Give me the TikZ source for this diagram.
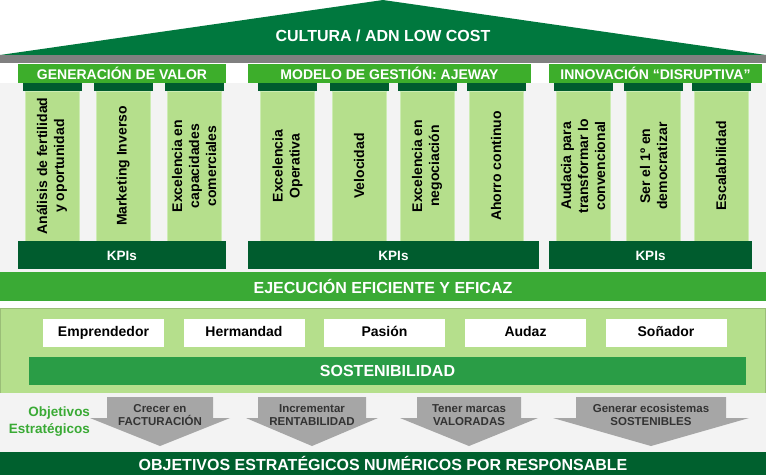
\documentclass[tikz,border=0pt]{standalone}
\usepackage{fontspec}
\setmainfont{Liberation Sans}
\definecolor{roofgreen}{RGB}{0,120,62}
\definecolor{grnbright}{RGB}{61,174,43}
\definecolor{grndark}{RGB}{0,92,46}
\definecolor{grnlight}{RGB}{181,223,140}
\definecolor{grnedge}{RGB}{205,236,180}
\definecolor{grnmid}{RGB}{58,170,53}
\definecolor{grnsost}{RGB}{42,157,70}
\definecolor{grnbottom}{RGB}{0,96,46}
\definecolor{arrowgray}{RGB}{166,166,166}
\definecolor{bggray}{RGB}{243,243,243}
\tikzset{
    base/.style={inner sep=0pt, outer sep=0pt, align=center,
        font=\bfseries\fontsize{14}{17}\selectfont},
    head/.style={base, fill=grnbright, text=white, minimum height=19},
    capital/.style={base, fill=grndark, minimum width=59, minimum height=8},
    column/.style={base, fill=grnlight, draw=grnedge, line width=0.6pt, rotate=90,
        minimum width=150, minimum height=54},
    kpi/.style={base, fill=grndark, text=white, minimum height=28,
        text height=10, text depth=0,
        font=\bfseries\fontsize{13.5}{15}\selectfont},
    band/.style={base, text=white, font=\bfseries\fontsize{16}{19}\selectfont},
    valuebox/.style={base, fill=white, minimum width=121, minimum height=28,
        text height=10, text depth=3},
    arrowtxt/.style={base, text=black!80, font=\bfseries\fontsize{11.5}{13.5}\selectfont},
}
\begin{document}
\begin{tikzpicture}[x=1pt, y=-1pt]
    \useasboundingbox (0,0) rectangle (766,475);
    \fill[bggray] (0,83) rectangle (766,272);
    \fill[roofgreen] (0,55) -- (383,0) -- (766,55) -- cycle;
    \fill[black!50] (0,55) rectangle (766,63);
    \node[band, font=\bfseries\fontsize{16}{19}\selectfont] (cultura) at (383,36) {CULTURA / ADN LOW COST};

    \node[head, minimum width=208] (valor) at (122,73.5) {GENERACIÓN DE VALOR};
    \node[head, minimum width=283] (gestion) at (389.5,73.5) {MODELO DE GESTIÓN: AJEWAY};
    \node[head, minimum width=213] (innovacion) at (655.5,73.5) {INNOVACIÓN “DISRUPTIVA”};

    \foreach \x/\n/\t in {
        52/fertilidad/{Análisis de fertilidad\\y oportunidad},
        123/marketing/{Marketing Inverso},
        194/capacidades/{Excelencia en\\capacidades\\comerciales},
        287.5/operativa/{Excelencia\\Operativa},
        359/velocidad/{Velocidad},
        427/negociacion/{Excelencia en\\negociación},
        496/ahorro/{Ahorro continuo},
        583/audacia/{Audacia para\\transformar lo\\convencional},
        653.5/democratizar/{Ser el 1º en\\democratizar},
        721/escala/{Escalabilidad}} {
        \node[capital] (\n-cap) at (\x,87) {};
        \node[column] (\n) at (\x,166) {\t};
    }

    \node[kpi, minimum width=208] (kpi1) at (122,255) {KPIs};
    \node[kpi, minimum width=291] (kpi2) at (393.5,255) {KPIs};
    \node[kpi, minimum width=203] (kpi3) at (650.5,255) {KPIs};

    \node[band, fill=grnmid, minimum width=766, minimum height=29] (ejecucion) at (383,286.5) {EJECUCIÓN EFICIENTE Y EFICAZ};

    \node[base, fill=grnlight, draw=grnlight!85!black, line width=0.6pt, minimum width=765, minimum height=85] (valores) at (382.5,350.5) {};
    \foreach \x/\n/\t in {103.5/emprendedor/Emprendedor, 244/hermandad/Hermandad,
        384.5/pasion/Pasión, 525.5/audaz/Audaz, 666/sonador/Soñador} {
        \node[valuebox] (\n) at (\x,333) {\t};
    }
    \node[band, fill=grnsost, minimum width=717, minimum height=28] (sostenibilidad) at (387.5,371) {SOSTENIBILIDAD};

    \fill[bggray] (0,393) rectangle (766,452);
    \node[base, anchor=east, align=right, text=grnmid, font=\bfseries\fontsize{13.5}{17}\selectfont] (objetivos) at (90,422) {Objetivos\\Estratégicos};
    \foreach \cx/\bw/\hw/\n/\t in {
        160/53/70/facturacion/{Crecer en\\FACTURACIÓN},
        312/54/66/rentabilidad/{Incrementar\\RENTABILIDAD},
        469/52/69/marcas/{Tener marcas\\VALORADAS},
        651/75/98/ecosistemas/{Generar ecosistemas\\SOSTENIBLES}} {
        \fill[arrowgray] (\cx-\bw,397) -- (\cx+\bw,397) -- (\cx+\bw,418) -- (\cx+\hw,418)
            -- (\cx,446) -- (\cx-\hw,418) -- (\cx-\bw,418) -- cycle;
        \node[arrowtxt] (\n) at (\cx,415) {\t};
    }

    \node[band, fill=grnbottom, minimum width=766, minimum height=23] (numericos) at (383,463.5) {OBJETIVOS ESTRATÉGICOS NUMÉRICOS POR RESPONSABLE};
\end{tikzpicture}
\end{document}
